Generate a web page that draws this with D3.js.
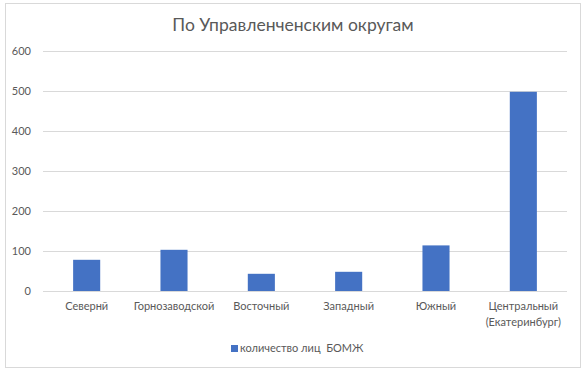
<!DOCTYPE html>
<html>
<head>
<meta charset="utf-8">
<script src="https://cdn.jsdelivr.net/npm/d3@7"></script>
<style>
  body { margin: 0; background: #fff; }
  svg { font-family: Lato, "Liberation Sans", sans-serif; }
</style>
</head>
<body>
<svg width="587" height="375"></svg>
<script>
// data
const districts = ["Севернй", "Горнозаводской", "Восточный", "Западный", "Южный", "Центральный (Екатеринбург)"]
const counts = [78, 103, 43, 48, 114, 498]
const yTicks = [0, 100, 200, 300, 400, 500, 600]
const seriesName = "количество лиц  БОМЖ"
const title = "По Управленченским округам"

const svg = d3.select("svg")
const margin = {left: 43, right: 20, top: 52, bottom: 84}
const W = 587, H = 375

// chart frame
svg.append("rect")
  .attr("x", 5.5).attr("y", 3.5)
  .attr("width", 575).attr("height", 364)
  .attr("fill", "#fff").attr("stroke", "#d9d9d9")

const x = d3.scaleBand()
  .domain(districts)
  .range([margin.left, W - margin.right])
  .paddingInner(0.69).paddingOuter(0.345)

const y = d3.scaleLinear()
  .domain([0, 600])
  .range([291, 51])

// gridlines
svg.append("g")
  .selectAll("line")
  .data(yTicks)
  .join("line")
  .attr("x1", margin.left).attr("x2", W - margin.right)
  .attr("y1", d => Math.round(y(d)) + 0.5).attr("y2", d => Math.round(y(d)) + 0.5)
  .attr("stroke", "#d9d9d9")

// y labels
svg.append("g")
  .selectAll("text")
  .data(yTicks)
  .join("text")
  .attr("x", 31).attr("y", d => y(d) + 4)
  .attr("text-anchor", "end")
  .attr("font-size", 11)
  .attr("fill", "#595959")
  .text(d => d)

// bars
svg.append("g")
  .selectAll("rect")
  .data(counts)
  .join("rect")
  .attr("x", (d, i) => x(districts[i]))
  .attr("width", x.bandwidth())
  .attr("y", d => y(d))
  .attr("height", d => y(0) - y(d))
  .attr("fill", "#4472c4")

// x labels (wrap on space for long names)
svg.append("g")
  .selectAll("text")
  .data(districts)
  .join("text")
  .attr("x", d => x(d) + x.bandwidth() / 2)
  .attr("y", 310)
  .attr("text-anchor", "middle")
  .attr("font-size", 11)
  .attr("fill", "#595959")
  .each(function(d) {
    const parts = d.length > 16 ? d.split(" ") : [d]
    d3.select(this).selectAll("tspan")
      .data(parts)
      .join("tspan")
      .attr("x", x(d) + x.bandwidth() / 2)
      .attr("dy", (p, j) => j ? 16 : 0)
      .text(p => p)
  })

// title
svg.append("text")
  .attr("x", 293).attr("y", 31)
  .attr("text-anchor", "middle")
  .attr("font-size", 17.5)
  .attr("fill", "#595959")
  .text(title)

// legend
const lg = svg.append("g")
lg.append("rect")
  .attr("x", 231).attr("y", 345)
  .attr("width", 7).attr("height", 7)
  .attr("fill", "#4472c4")
lg.append("text")
  .attr("x", 240).attr("y", 352)
  .attr("font-size", 11)
  .attr("fill", "#595959")
  .attr("xml:space", "preserve")
  .style("white-space", "pre")
  .text(seriesName)
</script>
</body>
</html>
